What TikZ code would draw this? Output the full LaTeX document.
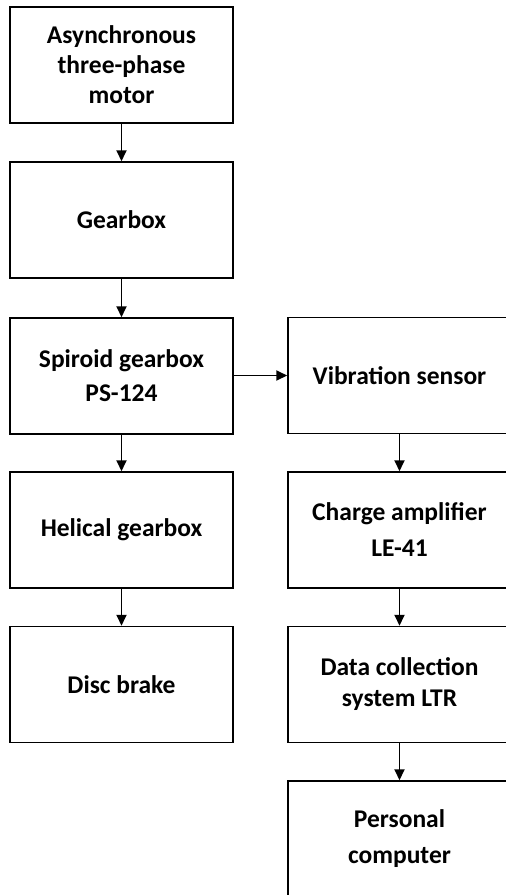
\documentclass[tikz,border=0pt]{standalone}
\usepackage{fontspec}
\setmainfont{Carlito}
\usetikzlibrary{arrows.meta}
\begin{document}
\begin{tikzpicture}[x=1pt,y=-1pt,
  blk/.style={draw=black,line width=1.5pt,minimum width=223pt,minimum height=116pt,inner sep=0pt,
    align=center,font=\fontsize{25.5}{30}\selectfont\bfseries,fill=white},
  arr/.style={line width=1.8pt,-{Triangle[length=11pt,width=10pt]}}]
\useasboundingbox (0,0) rectangle (506,895);
\clip (0,0) rectangle (506,895);
\node[blk] (motor) at (121.5,65) {Asynchronous\\three-phase\\motor};
\node[blk] (gear) at (121.5,220) {Gearbox};
\node[blk] (spir) at (121.5,376) {Spiroid gearbox\\[4pt]PS-124};
\node[blk] (helic) at (121.5,530) {Helical gearbox};
\node[blk] (disc) at (121.5,684.5) {Disc brake};
\node[blk] (vib) at (399.5,375.5) {Vibration sensor};
\node[blk] (amp) at (399.5,530) {Charge amplifier\\[6pt]LE-41};
\node[blk] (dcs) at (399.5,684.5) {Data collection\\[1pt]system LTR};
\node[blk] (pc) at (399.5,839) {Personal\\[6pt]computer};
\draw[arr] (motor) -- (gear);
\draw[arr] (gear) -- (spir);
\draw[arr] (spir) -- (helic);
\draw[arr] (helic) -- (disc);
\draw[arr] (spir.east |- vib.west) -- (vib.west);
\draw[arr] (vib) -- (amp);
\draw[arr] (amp) -- (dcs);
\draw[arr] (dcs) -- (pc);
\end{tikzpicture}
\end{document}
